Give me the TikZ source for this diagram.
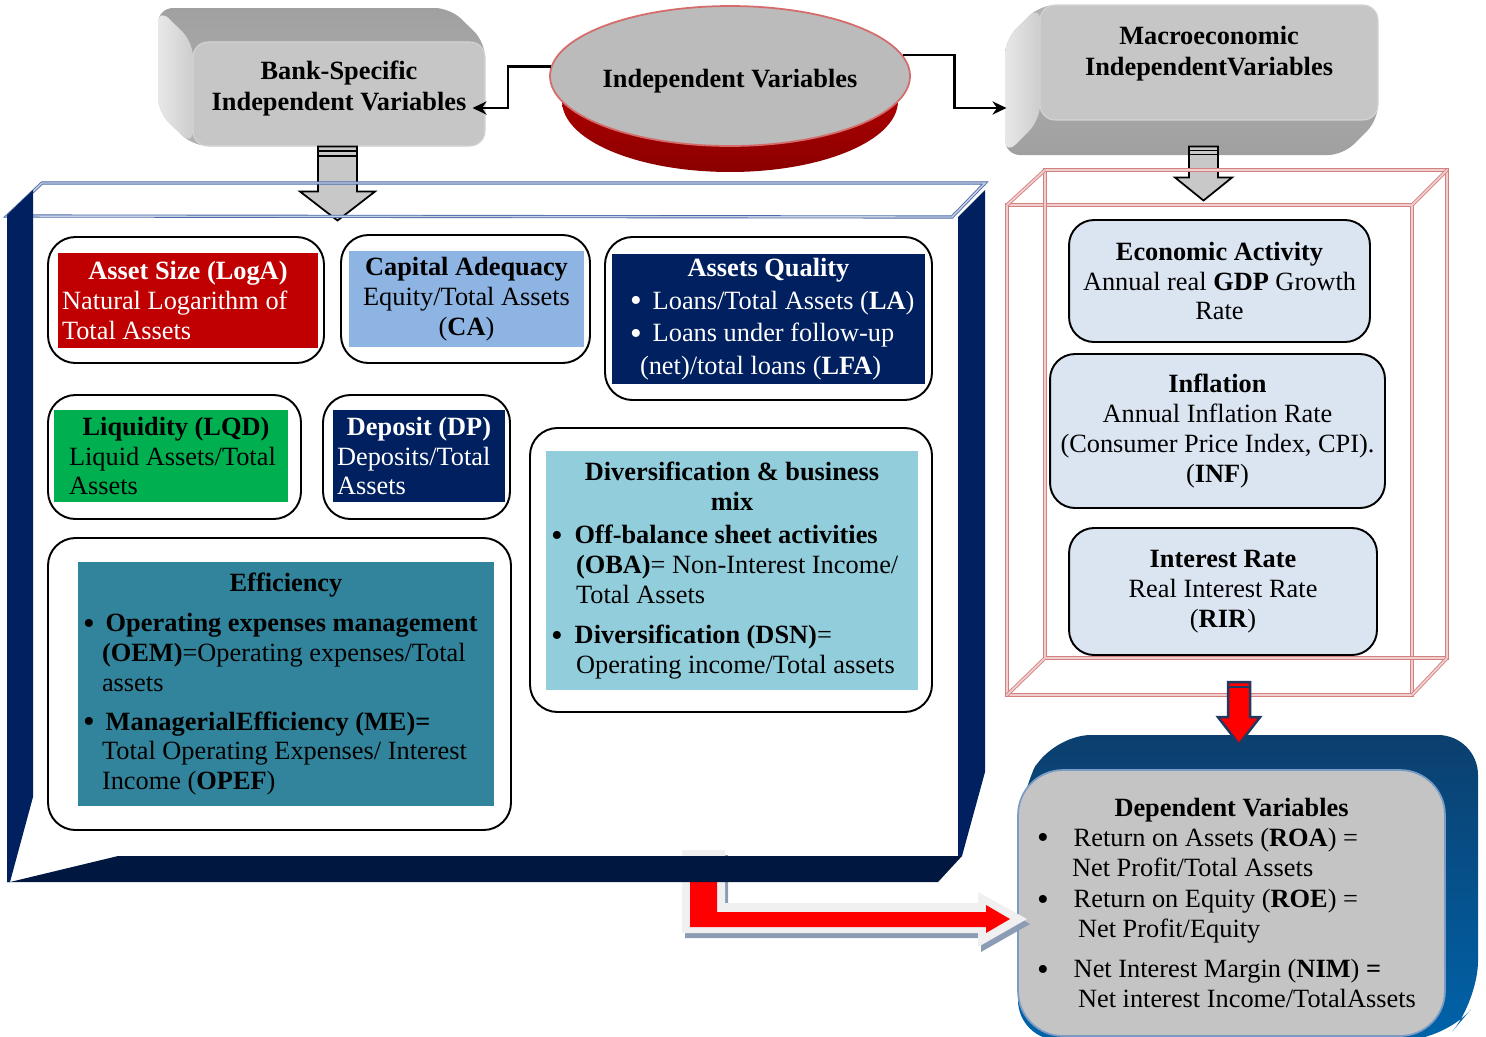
\documentclass[tikz,border=0pt]{standalone}
\usepackage{fontspec}
\setmainfont{Liberation Serif}
\usepackage{tikz}
\usetikzlibrary{shapes.geometric, arrows.meta}

\setlength{\parindent}{0pt}
\newlength{\upx}
\setlength{\upx}{0.02cm}
\newcommand{\pxgap}[1]{\hspace*{#1\upx}}
\newcommand{\bul}{\smash{\raisebox{-1.6pt}{\fontsize{19}{17}\selectfont\textbullet}}}

\definecolor{FaceGray}{HTML}{C6C6C6}
\definecolor{FaceEdge}{HTML}{D4D4D4}
\definecolor{TopGray}{HTML}{A0A0A0}
\definecolor{SideLight}{HTML}{E8E8E8}
\definecolor{SideMid}{HTML}{CDCDCD}
\definecolor{EllipseGray}{HTML}{BBBBBB}
\definecolor{EllipseEdge}{HTML}{D56B6B}
\definecolor{EllipseRed}{HTML}{C80000}
\definecolor{EllipseDark}{HTML}{8B0000}
\definecolor{BoltGray}{HTML}{C8C8C8}
\definecolor{DepTop}{HTML}{0B3F6E}
\definecolor{DepSide}{HTML}{0063AA}
\definecolor{DepGray}{HTML}{C4C4C4}
\definecolor{DepEdge}{HTML}{7A9CC4}
\definecolor{ArrowRed}{HTML}{FF0000}
\definecolor{ArrowNavy}{HTML}{1F3A60}
\definecolor{HaloGray}{HTML}{F0F0F0}
\definecolor{ShadowGray}{HTML}{8C9CB4}
\definecolor{FrameNavy}{HTML}{00205F}
\definecolor{FrameDark}{HTML}{00173F}
\definecolor{BandBlue}{HTML}{4A6AA8}
\definecolor{TileRed}{HTML}{C00000}
\definecolor{TileSky}{HTML}{8DB4E2}
\definecolor{TileNavy}{HTML}{002060}
\definecolor{TileGreen}{HTML}{00B050}
\definecolor{TileCyan}{HTML}{92CDDC}
\definecolor{TileTeal}{HTML}{31849B}
\definecolor{EconBlue}{HTML}{DBE5F1}
\definecolor{WireRed}{HTML}{C9605E}

\begin{document}
\begin{tikzpicture}[x=0.02cm, y=-0.02cm, font=\fontsize{15}{17}\selectfont]
    \tikzstyle{link} = [line width=1.3pt, ->, >={Stealth[length=8pt, width=7.5pt]}]
    \tikzstyle{face} = [fill=FaceGray, draw=FaceEdge, line width=0.6pt, rounded corners=0.3cm, align=center, font=\fontsize{15}{17.6}\selectfont\bfseries]
    \tikzstyle{holder} = [draw, line width=1.1pt, rounded corners=0.55cm, fill=white]
    \tikzstyle{tile} = [inner sep=0.08cm, align=flush left]
    \tikzstyle{econ} = [draw, line width=1.1pt, rounded corners=0.5cm, fill=EconBlue, align=center, inner sep=0.08cm]
    \tikzstyle{depface} = [draw=DepEdge, line width=1pt, fill=DepGray, rounded corners=0.9cm, inner sep=0.08cm, align=flush left]
    \tikzstyle{bolt} = [draw, line width=1pt, fill=BoltGray, line join=miter]
    \tikzstyle{wire} = [draw=WireRed!80, line width=0.5pt, double=WireRed!30, double distance=1pt]
    \tikzstyle{band} = [draw=BandBlue, line width=0.5pt, double=BandBlue!30, double distance=0.8pt]

    \useasboundingbox (0,0) rectangle (1486,1036);

    % Bank-specific box, raised top and left side
    \shade [top color=TopGray, bottom color=TopGray!80!white, rounded corners=0.3cm] (158,8) -- (450,8) -- (485,42) -- (485,146) -- (193,146) -- (158,112) -- cycle;
    \shade [left color=SideLight, right color=SideMid, rounded corners=0.3cm] (158,8) -- (193,42) -- (193,146) -- (158,112) -- cycle;
    \node [face, minimum width=5.84cm, minimum height=2.08cm, text depth=9.5pt] (BankBox) at (339,94) {Bank-Specific\\Independent Variables};

    % Macroeconomic box, raised left side and bottom
    \shade [top color=TopGray!80!white, bottom color=TopGray, rounded corners=0.3cm] (1040,5) -- (1378,5) -- (1378,120) -- (1343,155) -- (1005,155) -- (1005,40) -- cycle;
    \shade [left color=SideLight, right color=SideMid, rounded corners=0.3cm] (1040,5) -- (1005,40) -- (1005,155) -- (1040,120) -- cycle;
    \node [face, minimum width=6.76cm, minimum height=2.3cm, text depth=13pt] (MacroBox) at (1209,62.5) {Macroeconomic\\IndependentVariables};

    % Independent variables disc
    \shade [top color=EllipseRed, bottom color=EllipseDark] (730,101) ellipse [x radius=3.36cm, y radius=1.42cm];
    \node [ellipse, draw=EllipseEdge, line width=1pt, fill=EllipseGray, minimum width=6.92cm, minimum height=2.8cm, inner sep=0pt, font=\fontsize{15}{17}\selectfont\bfseries, text height=16pt] (IndepVars) at (730,76) {Independent Variables};

    % Disc to the two groups of variables
    \draw [link] (IndepVars.177) -- ++(-43,0) |- ([xshift=-0.26cm, yshift=-0.28cm]BankBox.east);
    \draw [link] (IndepVars.7) -- ++(52,0) |- ([xshift=-0.66cm, yshift=-0.91cm]MacroBox.west);

    % Gray drop arrows under both boxes
    \coordinate (BankDrop) at ([xshift=-0.42cm]BankBox.south);
    \draw [bolt] (BankDrop) -- ++(0,45) -- ++(-18,0) -- ++(37.5,29) -- ++(37.5,-29) -- ++(-18,0) -- ++(0,-45) -- cycle;
    \draw [line width=0.9pt] ([yshift=-0.09cm]BankDrop) -- ++(39,0) ([yshift=-0.19cm]BankDrop) -- ++(39,0);

    \coordinate (MacroDrop) at ([xshift=-0.4cm, yshift=-0.52cm]MacroBox.south);
    \draw [bolt] (MacroDrop) -- ++(0,31) -- ++(-14,0) -- ++(28.5,23) -- ++(28.5,-23) -- ++(-14,0) -- ++(0,-31) -- cycle;
    \draw [line width=0.9pt] ([yshift=-0.08cm]MacroDrop) -- ++(29,0) ([yshift=-0.16cm]MacroDrop) -- ++(29,0);

    % Dependent variables box, blue body behind the face
    \shade [top color=DepTop, bottom color=DepSide, rounded corners=0.8cm] (1018,800) -- (1051,735) -- (1478,735) -- (1478,1001) -- (1445,1040) -- (1018,1040) -- cycle;
    \node [depface, minimum width=8.54cm, minimum height=5.32cm, text width=8.38cm] (DepVars) at (1231.5,903) {%
        \hfill\textbf{Dependent Variables}\hfill\null\\
        \pxgap{15}\bul\pxgap{25}Return on Assets (\textbf{ROA}) =\\
        \pxgap{50}Net Profit/Total Assets\\[1pt]
        \pxgap{15}\bul\pxgap{25}Return on Equity (\textbf{ROE}) =\\
        \pxgap{56}Net Profit/Equity\\[6pt]
        \pxgap{15}\bul\pxgap{25}Net Interest Margin (\textbf{NIM}) \textbf{=}\\
        \pxgap{56}Net interest Income/TotalAssets};

    % Bent red arrow from the frame to the dependent variables
    \coordinate (FrameExit) at (682,850);
    \fill [ShadowGray] ([shift={(3,5)}]FrameExit) -- ++(43,0) -- ++(0,53) -- ++(253,0) -- ++(0,-11) -- ++(49,27) -- ++(-49,28) -- ++(0,-14) -- ++(-296,0) -- cycle;
    \fill [HaloGray] (FrameExit) -- ++(43,0) -- ++(0,53) -- ++(253,0) -- ++(0,-11) -- ++(49,27) -- ++(-49,28) -- ++(0,-14) -- ++(-296,0) -- cycle;
    \fill [ArrowRed] ([shift={(8,8)}]FrameExit) -- ++(27,0) -- ++(0,54) -- ++(269,0) -- ++(0,-7) -- ++(24,14) -- ++(-24,14) -- ++(0,-6) -- ++(-296,0) -- cycle;

    % Navy frame round the bank-specific variables
    \draw [band] (7,216) -- (42,183) -- (985,183) -- (952,217) -- cycle;
    \fill [FrameNavy] (7,215) -- (33,190) -- (33,797) -- (10,882) -- (7,882) -- cycle;
    \fill [FrameNavy] (958,217) -- (985,190) -- (985,772) -- (962,856) -- (958,856) -- cycle;
    \fill [FrameDark] (7,882) -- (10,882) -- (118,856) -- (962,856) -- (938,882) -- cycle;

    % Asset size
    \draw [holder] (48,237) rectangle (324,363);
    \node [tile, fill=TileRed, text=white, minimum width=5.2cm, minimum height=1.9cm, text width=5.04cm] (AssetSize) at (188,300.5) {%
        \hfill\textbf{Asset Size (LogA)}\hfill\null\\
        Natural Logarithm of\\
        Total Assets};

    % Capital adequacy
    \draw [holder] (341,235) rectangle (590,363);
    \node [tile, align=flush center, fill=TileSky, minimum width=4.7cm, minimum height=1.92cm, text width=4.54cm] (CapAdequacy) at (466.5,299) {%
        \textbf{Capital Adequacy}\\
        Equity/Total Assets\\
        (\textbf{CA})};

    % Assets quality
    \draw [holder] (605,237) rectangle (932,400);
    \node [tile, fill=TileNavy, text=white, minimum width=6.26cm, minimum height=2.56cm, text width=6.1cm, font=\fontsize{15}{18.5}\selectfont] (AssetsQuality) at (768.5,319) {%
        \hfill\textbf{Assets Quality}\hfill\null\\
        \pxgap{14}\bul\pxgap{11}Loans/Total Assets (\textbf{LA})\\
        \pxgap{14}\bul\pxgap{11}Loans under follow-up\\
        \pxgap{24}(net)/total loans (\textbf{LFA})};

    % Liquidity
    \draw [holder] (48,395) rectangle (301,519);
    \node [tile, fill=TileGreen, minimum width=4.68cm, minimum height=1.84cm, text width=4.52cm] (Liquidity) at (171,456) {%
        \hfill\pxgap{10}\textbf{Liquidity (LQD)}\hfill\null\\
        \pxgap{11}Liquid Assets/Total\\
        \pxgap{11}Assets};

    % Deposit
    \draw [holder] (323,395) rectangle (510,519);
    \node [tile, fill=TileNavy, text=white, minimum width=3.44cm, minimum height=1.84cm, text width=3.28cm] (Deposit) at (419,456) {%
        \hfill\textbf{Deposit (DP)}\hfill\null\\
        Deposits/Total\\
        Assets};

    % Diversification and business mix
    \draw [holder] (530,428) rectangle (932,712);
    \node [tile, fill=TileCyan, minimum width=7.44cm, minimum height=4.78cm, text width=7.28cm] (Diversification) at (732,570.5) {%
        \hfill\textbf{Diversification \& business}\hfill\null\\
        \hfill\textbf{mix}\hfill\null\\[2pt]
        \pxgap{1}\bul\pxgap{12}\textbf{Off-balance sheet activities}\\
        \pxgap{26}\textbf{(OBA)}= Non-Interest Income/\\
        \pxgap{26}Total Assets\\[6pt]
        \pxgap{1}\bul\pxgap{12}\textbf{Diversification (DSN)}=\\
        \pxgap{26}Operating income/Total assets};

    % Efficiency
    \draw [holder] (48,538) rectangle (511,830);
    \node [tile, fill=TileTeal, minimum width=8.32cm, minimum height=4.88cm, text width=8.16cm] (Efficiency) at (286,684) {%
        \hfill\textbf{Efficiency}\hfill\null\\[6pt]
        \pxgap{1}\bul\pxgap{11}\textbf{Operating expenses management}\\
        \pxgap{20}\textbf{(OEM)}=Operating expenses/Total\\
        \pxgap{20}assets\\[5pt]
        \pxgap{1}\bul\pxgap{11}\textbf{ManagerialEfficiency (ME)=}\\
        \pxgap{20}Total Operating Expenses/ Interest\\
        \pxgap{20}Income (\textbf{OPEF})};

    % Red wire box round the macroeconomic variables
    \draw [wire] (1007,205) rectangle (1412,695);
    \draw [wire] (1045,170) rectangle (1447,658);
    \draw [wire] (1007,205) -- (1045,170) (1412,205) -- (1447,170) (1412,695) -- (1447,658) (1007,695) -- (1045,658);

      % Economic activity
      \node [econ, minimum width=6.02cm, minimum height=2.44cm] (EconActivity) at (1219.5,281) {\textbf{Economic Activity}\\Annual real \textbf{GDP} Growth\\Rate};

      % Inflation
      \node [econ, minimum width=6.7cm, minimum height=3.08cm] (Inflation) at (1217.5,431) {\textbf{Inflation}\\Annual Inflation Rate\\(Consumer Price Index, CPI).\\(\textbf{INF})};

      % Interest rate
      \node [econ, minimum width=6.16cm, minimum height=2.54cm] (InterestRate) at (1223,591.5) {\textbf{Interest Rate}\\Real Interest Rate\\(\textbf{RIR})};

    % Red drop arrow into the dependent variables
    \coordinate (WireDrop) at ([xshift=-0.07cm, yshift=1.74cm]DepVars.north);
    \draw [draw=ArrowNavy, fill=ArrowRed, line width=1.4pt, line join=miter] (WireDrop) -- ++(0,35) -- ++(-10,0) -- ++(21,27) -- ++(21,-27) -- ++(-10,0) -- ++(0,-35) -- cycle;
    \draw [ArrowNavy, line width=1.4pt] ([yshift=-0.1cm]WireDrop) -- ++(22,0);
\end{tikzpicture}
\end{document}
